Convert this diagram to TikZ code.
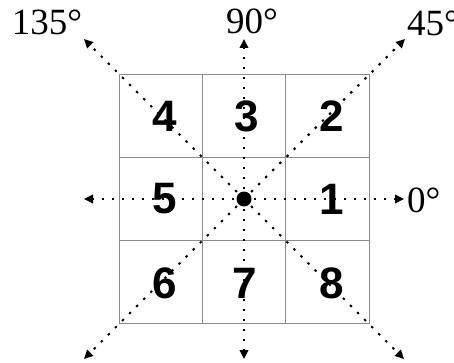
\documentclass[tikz,border=0pt]{standalone}
\usepackage{fontspec}
\setmainfont{Liberation Serif}
\newfontfamily\numfont{Liberation Sans}
\usetikzlibrary{arrows.meta}
\begin{document}
\begin{tikzpicture}[x=1pt,y=-1pt,
  gridline/.style={draw=black!45,line width=0.9pt},
  ray/.style={line width=2.1pt,dash pattern=on 2.4pt off 7.6pt,
    -{Triangle[length=9pt,width=8.5pt]}},
  num/.style={inner sep=0pt,font=\numfont\bfseries\fontsize{44}{44}\selectfont},
  deg/.style={inner sep=0pt,font=\fontsize{37}{37}\selectfont}]
\useasboundingbox (0,0) rectangle (454,363);
% grid
\draw[gridline] (119,74) rectangle (369,323);
\draw[gridline] (202,74) -- (202,323) (285,74) -- (285,323)
  (119,157) -- (369,157) (119,240) -- (369,240);
% numbers
\node[num] (n4) at (165,116) {4};
\node[num] (n3) at (247,116) {3};
\node[num] (n2) at (332,116) {2};
\node[num] (n5) at (165,199) {5};
\node[num] (n1) at (332,199) {1};
\node[num] (n6) at (165,283) {6};
\node[num] (n7) at (245,283) {7};
\node[num] (n8) at (332,283) {8};
% rays
\coordinate (c) at (244,199);
\coordinate (e0) at (404,199);
\coordinate (e45) at (405,39);
\coordinate (e90) at (244,39);
\coordinate (e135) at (84,39);
\coordinate (e180) at (84,199);
\coordinate (e225) at (84,359);
\coordinate (e270) at (244,359);
\coordinate (e315) at (404,359);
\foreach \e in {e0,e45,e90,e135,e180,e225,e270,e315}
  \draw[ray] (c) -- (\e);
\fill (c) circle (7.5);
% labels
\node[deg,anchor=center] (l135) at (47,22) {135°};
\node[deg,anchor=center] (l90) at (252,21) {90°};
\node[deg,anchor=west] (l45) at (407,23) {45°};
\node[deg,anchor=west] (l0) at (407,200) {0°};
\end{tikzpicture}
\end{document}
